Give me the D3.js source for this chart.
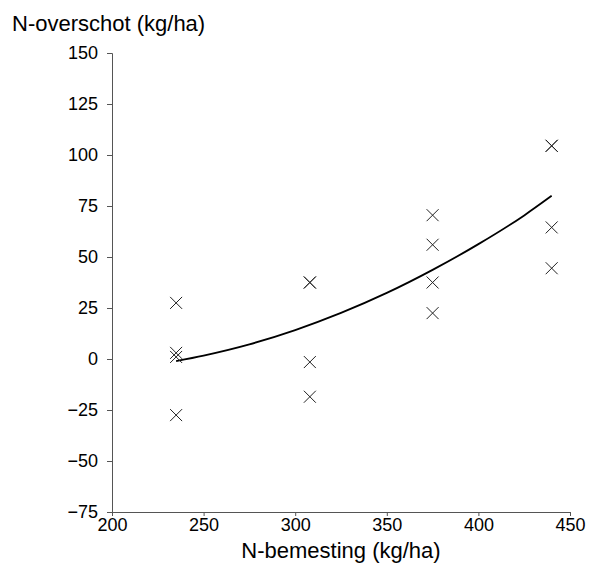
<!DOCTYPE html>
<html>
<head>
<meta charset="utf-8">
<script src="https://cdn.jsdelivr.net/npm/d3@7"></script>
<style>
  html, body { margin: 0; padding: 0; background: #fff; }
  svg { display: block; font-family: "Liberation Sans", Arial, sans-serif; }
</style>
</head>
<body>
<svg id="chart" width="592" height="563"></svg>
<script>
// N-dose per plot (kg/ha) and the measured N-surplus (kg/ha)
const doses    = [235, 235, 235, 235, 308, 308, 308, 308, 375, 375, 375, 375, 440, 440, 440, 440];
const surplus  = [27.5, 3, 1, -27.5, 37.5, 37.5, -1.5, -18.5, 70.5, 56, 37.5, 22.5, 104.5, 104.5, 64.5, 44.5];

// Fitted response curve
const fitDose    = [235, 250, 275, 300, 325, 350, 375, 400, 425, 440];
const fitSurplus = [-1, 1.7, 7.2, 14.2, 22.6, 32.4, 43.7, 56.3, 70.4, 80];

const xTicks = [200, 250, 300, 350, 400, 450];
const yTicks = [-75, -50, -25, 0, 25, 50, 75, 100, 125, 150];

const svg = d3.select("#chart");
const axisColor = "#555";

const x = d3.scaleLinear().domain([200, 450]).range([112, 570]);
const y = d3.scaleLinear().domain([-75, 150]).range([512, 53]);

// y axis
const gy = svg.append("g")
  .attr("transform", `translate(${x(200)},0)`)
  .call(d3.axisLeft(y).tickValues(yTicks).tickSize(5).tickPadding(9).tickFormat(d3.format("d")));
// x axis
const gx = svg.append("g")
  .attr("transform", `translate(0,${y(-75)})`)
  .call(d3.axisBottom(x).tickValues(xTicks).tickSize(4).tickPadding(2).tickFormat(d3.format("d")));

[gx, gy].forEach(g => {
  g.select(".domain").attr("stroke", axisColor).attr("stroke-width", 1);
  g.selectAll(".tick line").attr("stroke", axisColor);
  g.selectAll(".tick text")
    .attr("fill", "#000")
    .style("font-family", "'Liberation Sans', Arial, sans-serif")
    .style("font-size", "18px");
});

// fitted curve
svg.append("path")
  .datum(fitDose.map((d, i) => [d, fitSurplus[i]]))
  .attr("fill", "none")
  .attr("stroke", "#000")
  .attr("stroke-width", 1.8)
  .attr("d", d3.line().x(d => x(d[0])).y(d => y(d[1])).curve(d3.curveMonotoneX));

// observations as crosses
const s = 6;
const pts = svg.append("g");
doses.forEach((d, i) => {
  const cx = x(d), cy = y(surplus[i]);
  pts.append("path")
    .attr("d", `M${cx - s},${cy - s}L${cx + s},${cy + s}M${cx - s},${cy + s}L${cx + s},${cy - s}`)
    .attr("stroke", "#222")
    .attr("stroke-width", 1)
    .attr("fill", "none");
});

// axis titles
svg.append("text")
  .attr("x", 12).attr("y", 31)
  .style("font-size", "22px")
  .text("N-overschot (kg/ha)");

svg.append("text")
  .attr("x", (x(200) + x(450)) / 2).attr("y", 558)
  .attr("text-anchor", "middle")
  .style("font-size", "22px")
  .text("N-bemesting (kg/ha)");
</script>
</body>
</html>
